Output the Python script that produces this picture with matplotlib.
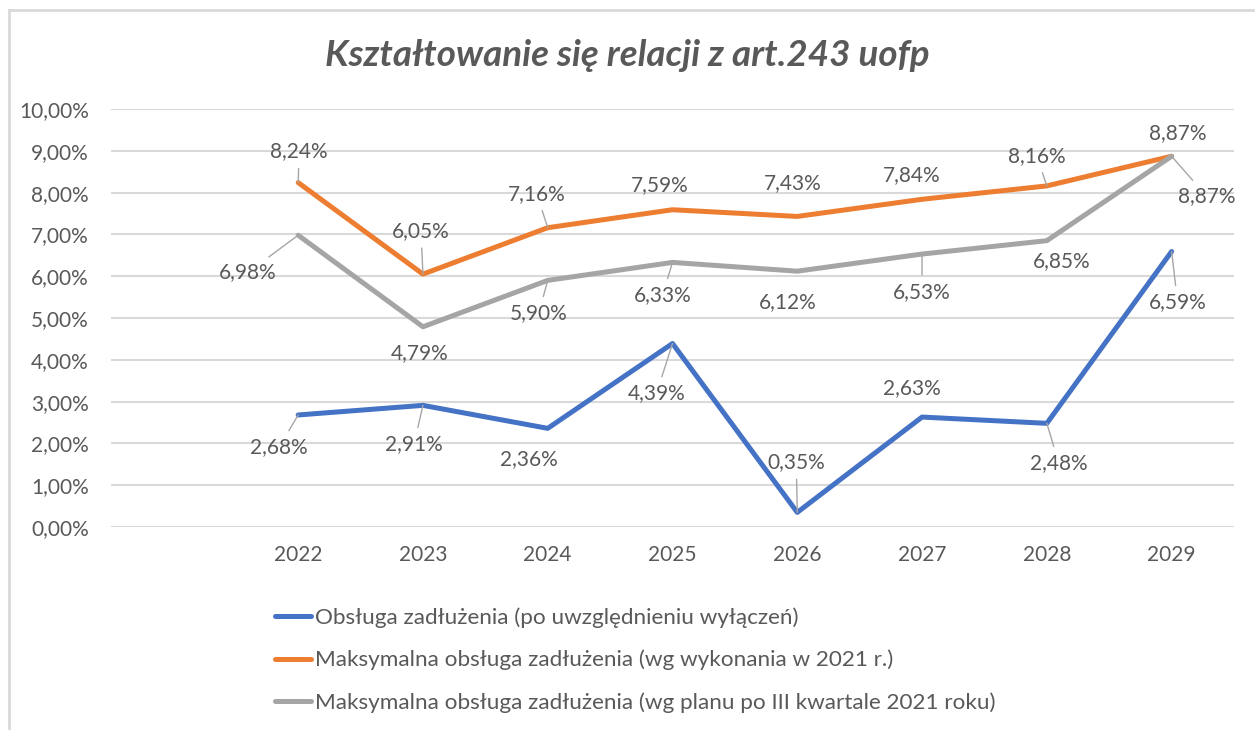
import matplotlib.pyplot as plt
from matplotlib.lines import Line2D

plt.rcParams['font.family'] = ['Lato', 'DejaVu Sans']

years = ['', '2022', '2023', '2024', '2025', '2026', '2027', '2028', '2029']

obsluga = [2.68, 2.91, 2.36, 4.39, 0.35, 2.63, 2.48, 6.59]
max_wykonanie = [8.24, 6.05, 7.16, 7.59, 7.43, 7.84, 8.16, 8.87]
max_plan = [6.98, 4.79, 5.90, 6.33, 6.12, 6.53, 6.85, 8.87]

names = ['Obsługa zadłużenia (po uwzględnieniu wyłączeń)',
         'Maksymalna obsługa zadłużenia (wg wykonania w 2021 r.)',
         'Maksymalna obsługa zadłużenia (wg planu po III kwartale 2021 roku)']
colors = ['#4472C4', '#ED7D31', '#A5A5A5']

# label offsets in pixels (dx, dy), and whether a leader line is shown
offsets = [
    [(-19, -32), (-9, -39), (-19, -31), (-16, -50), (-1, 50), (-10, 29), (12, -40), (6, -51)],
    [(1, 31), (-2, 43), (-11, 34), (-13, 25), (-5, 33), (-10, 24), (-10, 30), (6, 23)],
    [(-50, -37), (-3, -26), (-9, -33), (-10, -33), (-10, -31), (0, -38), (15, -20), (35, -40)],
]
leaders = [
    [1, 1, 0, 1, 1, 0, 1, 1],
    [1, 1, 1, 0, 0, 0, 1, 0],
    [1, 0, 1, 1, 0, 1, 0, 1],
]

txt = '#595959'
fig = plt.figure(figsize=(12.55, 7.3), dpi=100)
ax = fig.add_axes([111 / 1255, 1 - 527 / 730, 1123 / 1255, 418 / 730])

x = list(range(1, 9))
series = [obsluga, max_wykonanie, max_plan]
for s, vals in enumerate(series):
    ax.plot(x, vals, color=colors[s], lw=3.6, solid_capstyle='round',
            solid_joinstyle='round', label=names[s], zorder=3)
    for i, v in enumerate(vals):
        lbl = ('%.2f%%' % v).replace('.', ',')
        dx, dy = offsets[s][i]
        ap = None
        if leaders[s][i]:
            ap = dict(arrowstyle='-', color='#A6A6A6', lw=1.0, shrinkA=3, shrinkB=0)
        ax.annotate(lbl, (x[i], v), xytext=(dx, dy), textcoords='offset pixels',
                    ha='center', va='center', fontsize=15, color=txt,
                    arrowprops=ap, zorder=4)

ax.set_xlim(-0.5, 8.5)
ax.set_ylim(0, 10)
ax.set_xticks(range(9))
ax.set_xticklabels(years)
ax.set_yticks(range(0, 11))
ax.set_yticklabels([('%.2f%%' % v).replace('.', ',') for v in range(0, 11)])
ax.tick_params(length=0, labelsize=15, labelcolor=txt)
ax.tick_params(axis='y', pad=16)
ax.tick_params(axis='x', pad=13)
ax.grid(axis='y', color='#D9D9D9', lw=1.5)
ax.set_axisbelow(True)
for sp in ax.spines.values():
    sp.set_visible(False)

fig.text(0.5, 1 - 55 / 730, 'Kształtowanie się relacji z art.243 uofp', ha='center',
         va='center', fontsize=26.5, fontweight='bold', fontstyle='italic', color=txt)

fig.legend(loc='upper left', bbox_to_anchor=(255 / 1255, 1 - 587 / 730), frameon=False,
           fontsize=16.2, labelcolor=txt, handlelength=1.6, handletextpad=0.15,
           labelspacing=0.98)

# chart border (partially cut in the reference)
fig.add_artist(Line2D([9 / 1255, 9 / 1255], [0, 1 - 10 / 730], color='#D9D9D9', lw=2))
fig.add_artist(Line2D([9 / 1255, 1], [1 - 10 / 730, 1 - 10 / 730], color='#D9D9D9', lw=2))

fig.savefig('out.png', dpi=100)
